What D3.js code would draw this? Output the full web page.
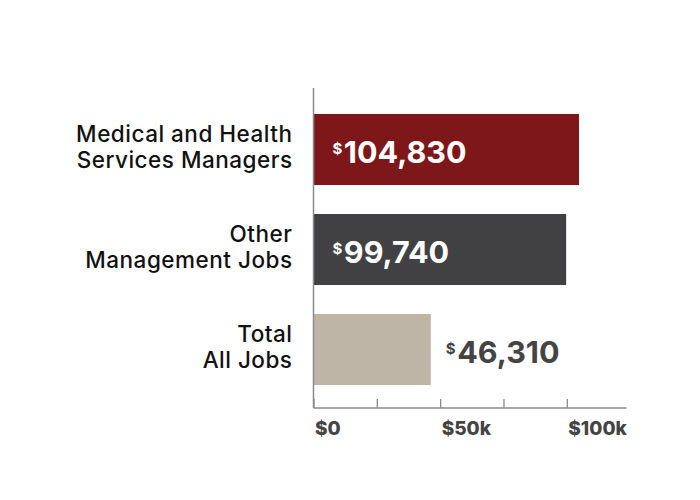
<!DOCTYPE html>
<html><head><meta charset="utf-8">
<script src="https://cdn.jsdelivr.net/npm/d3@7"></script>
<style>html,body{margin:0;padding:0;background:#fff;}svg{display:block;}</style>
</head><body>
<svg id="chart" width="700" height="500"></svg>
<script>
const categories = [["Medical and Health","Services Managers"],["Other","Management Jobs"],["Total","All Jobs"]];
const categoryKeys = ["Medical and Health Services Managers","Other Management Jobs","Total All Jobs"];
const values = [104830, 99740, 46310];
const barColors = ["#7e1719", "#414042", "#bfb5a7"];
const tickValues = [0, 25000, 50000, 75000, 100000];
const tickLabels = {0:"$0", 50000:"$50k", 100000:"$100k"};

const svg = d3.select("#chart");
const x0 = 313.5;
const x = d3.scaleLinear().domain([0, 100000]).range([x0, x0 + 253.3]);
const y = d3.scaleBand().domain(categoryKeys).range([99.5, 399.5]).paddingInner(0.29).paddingOuter(0.145);
const axisY = 408;
const FONT = "Inter, 'Noto Sans', sans-serif";

// bars
svg.selectAll("rect.bar").data(values).enter().append("rect")
  .attr("class","bar")
  .attr("x", x(0))
  .attr("y", (d,i)=>y(categoryKeys[i]))
  .attr("width", d=>x(d)-x(0))
  .attr("height", y.bandwidth())
  .attr("fill", (d,i)=>barColors[i]);

// bottom axis
const xAxis = d3.axisBottom(x).tickValues(tickValues).tickSize(-9).tickFormat("");
const gx = svg.append("g").attr("transform", `translate(0,${axisY})`).call(xAxis);
gx.select(".domain").attr("stroke","#8a8a8a").attr("stroke-width",1.5).attr("d", `M${x0},0H${x0+313}`);
gx.selectAll(".tick line").attr("stroke","#8a8a8a").attr("stroke-width",1.3);
gx.selectAll(".tick").filter(d=>tickLabels[d]!==undefined).append("text")
  .attr("x", 1).attr("y", 27)
  .attr("text-anchor","start")
  .attr("fill","#444")
  .style("font-family", FONT).style("font-weight","800").style("font-size","19px")
  .text(d=>tickLabels[d]);

// vertical axis line
svg.append("line").attr("x1",x0).attr("x2",x0).attr("y1",88).attr("y2",axisY)
  .attr("stroke","#8a8a8a").attr("stroke-width",1.5);

// category labels
categories.forEach((lines,i)=>{
  const cy = y(categoryKeys[i]) + y.bandwidth()/2;
  const t = svg.append("text").attr("text-anchor","end").attr("fill","#111")
    .style("font-family", FONT).style("font-weight","500").style("font-size","22.5px")
    .style("letter-spacing","0.5px");
  lines.forEach((ln,j)=>{
    t.append("tspan").attr("x",292.5).attr("y", cy - 8 + j*26).text(ln);
  });
});

// value labels
values.forEach((v,i)=>{
  const inside = v > 60000;
  const cy = y(categoryKeys[i]) + y.bandwidth()/2;
  const tx = inside ? x(0) + 19 : x(v) + 15;
  const t = svg.append("text").attr("x", tx).attr("y", cy + 13)
    .attr("fill", inside ? "#fff" : "#444")
    .style("font-family", FONT).style("font-weight","700");
  t.append("tspan").style("font-size","15px").attr("dy",-9).text("$");
  t.append("tspan").style("font-size","30.5px").attr("dy",9).attr("dx",1.5).text(d3.format(",")(v));
});
</script>
</body></html>
